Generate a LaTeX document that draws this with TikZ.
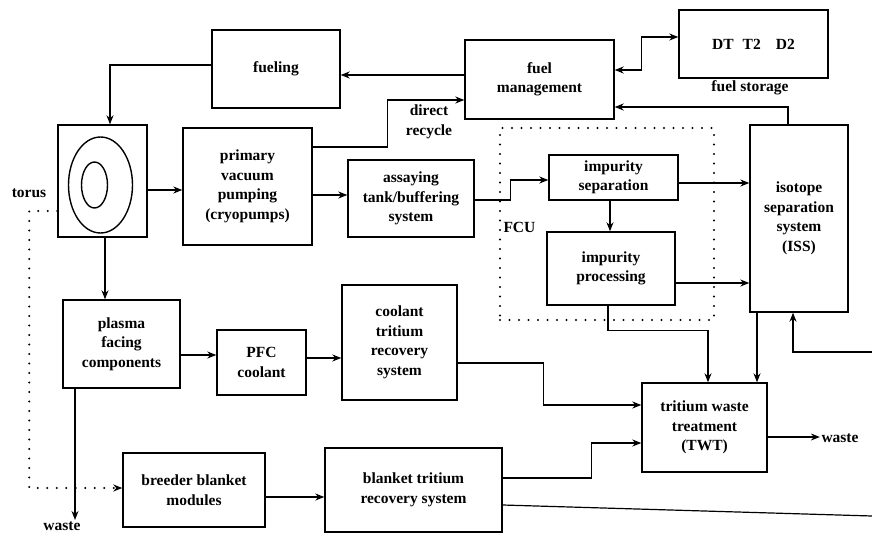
\documentclass[tikz,border=0pt]{standalone}
\usepackage{fontspec}
\setmainfont{Liberation Serif}
\usetikzlibrary{
	arrows.meta,
	positioning,
	calc,
}
\tikzset{unit/.style={
		% The shape:
		rectangle,
		% The border:
		line width=1.4pt,
		draw=black,
		% The text:
		align=center,
		font=\fontsize{15.5}{19.5}\selectfont\bfseries,
		inner sep=2pt,
}}
\tikzset{tag/.style={
		% plain text beside the boxes
		font=\fontsize{15.5}{19.5}\selectfont\bfseries,
		align=center,
		inner sep=1pt,
}}
\tikzset{dots/.style={
		% round dots, widely spaced
		line width=2.2pt,
		dash pattern=on 0pt off 9.5pt,
		line cap=round,
}}

\begin{document}
\begin{tikzpicture}[>={Stealth[length=9pt,width=7pt]},x=1pt,y=-1pt,line width=1.2pt]
	\useasboundingbox (0,0) rectangle (872,535);
	% the units
	\node (fueling) [unit, minimum width=128pt, minimum height=78pt] at (276,69) {fueling};
	\node (torus) [unit, minimum width=89pt, minimum height=112pt] at (102.5,181) {};
	\node (pump) [unit, minimum width=129pt, minimum height=117pt] at (247.5,186.5) {primary\\vacuum\\pumping\\(cryopumps)};
	\node (assay) [unit, minimum width=126pt, minimum height=77pt] at (411,198.5) {assaying\\tank/buffering\\system};
	\node (fuelmgmt) [unit, minimum width=149pt, minimum height=79pt] at (539.5,79.5) {fuel\\management};
	\node (storage) [unit, minimum width=149pt, minimum height=68pt] at (753.5,44) {DT\hspace{9pt}T2\hspace{15pt}D2};
	\node (impsep) [unit, minimum width=129pt, minimum height=45pt] at (613.5,177.5) {impurity\\separation};
	\node (impproc) [unit, minimum width=128pt, minimum height=73pt] at (611,268.5) {impurity\\processing};
	\node (iss) [unit, minimum width=98pt, minimum height=187pt] at (799,218.5) {isotope\\separation\\system\\(ISS)};
	\node (pfc) [unit, minimum width=117pt, minimum height=88pt] at (121.5,344) {plasma\\facing\\components};
	\node (pfccool) [unit, minimum width=89pt, minimum height=65pt] at (261.5,362.5) {PFC\\coolant};
	\node (ctrs) [unit, minimum width=115pt, minimum height=115pt] at (399.5,342.5) {coolant\\tritium\\recovery\\system};
	\node (breeder) [unit, minimum width=142pt, minimum height=74pt] at (194,490) {breeder blanket\\modules};
	\node (btrs) [unit, minimum width=177pt, minimum height=84pt] at (413.5,490) {blanket tritium\\recovery system};
	\node (twt) [unit, minimum width=125pt, minimum height=89pt] at (704.5,427.5) {tritium waste\\treatment\\(TWT)};
	% the fuel clean-up region
	\node (fcu) [draw, dots, minimum width=214pt, minimum height=192pt] at (607,224) {};
	\node (fcutxt) [tag, anchor=west] at ([xshift=3pt,yshift=-3pt]fcu.west) {FCU};
	% the torus rings
	\draw [line width=1.4pt] ([shift={(-2pt,-4pt)}]torus.center) ellipse [x radius=32pt, y radius=48pt];
	\draw [line width=1.4pt] ([shift={(-8pt,-4pt)}]torus.center) ellipse [x radius=13pt, y radius=23pt];
	% free texts
	\node (torustxt) [tag] at (29,193) {torus};
	\node (storagetxt) [tag] at (750,88) {fuel storage};
	\node (recycletxt) [tag] at (429,122) {direct\\recycle};
	\node (wasteA) [tag] at (62,526) {waste};
	\node (wasteB) [tag] at (840,438) {waste};
	\coordinate (issin) at (872,352);
	\coordinate (btrsout) at (872,516);
	% the flows
	\draw [->] ([yshift=4.5pt]fuelmgmt.west) coordinate (a1) -- (a1 -| fueling.east);
	\draw [->] ([yshift=4pt]fueling.west) -| ([xshift=7.5pt]torus.north);
	\draw [->] ([yshift=-9pt]torus.east) coordinate (a3) -- (a3 -| pump.west);
	\draw [->] ([yshift=-8.5pt]pump.east) coordinate (a4) -- (a4 -| assay.west);
	\draw [->] ([yshift=39.5pt]pump.east) -- ++(75pt,0) |- ([yshift=-20.5pt]fuelmgmt.west);
	\draw [<->] ([yshift=9.5pt]fuelmgmt.east) -- ++(27pt,0) |- ([yshift=7pt]storage.west);
	\draw [->] ([xshift=-11pt]iss.north) |- ([yshift=-27.5pt]fuelmgmt.east);
	\draw [->] ([yshift=-1.5pt]assay.east) -- ++(36pt,0) |- ([yshift=-2.5pt]impsep.west);
	\draw [->] ([yshift=-5.5pt]impsep.east) coordinate (a9) -- (a9 -| iss.west);
	\draw [->] ([xshift=-3.5pt]impsep.south) coordinate (a10) -- (a10 |- impproc.north);
	\draw [->] ([yshift=-14.5pt]impproc.east) coordinate (a11) -- (a11 -| iss.west);
	\draw [->] ([xshift=-3pt]impproc.south) -- ++(0,-25pt) -| ([xshift=3.5pt]twt.north);
	\draw [->] ([xshift=-42pt]iss.south) coordinate (a13) -- (a13 |- twt.north);
	\draw [->] (issin) -| ([xshift=-6pt]iss.south);
	\draw [->] ([yshift=-20.5pt]ctrs.east) -- ++(86pt,0) |- ([yshift=22.5pt]twt.west);
	\draw [->] ([yshift=12pt]btrs.east) -- ++(89pt,0) |- ([yshift=-15.5pt]twt.west);
	\draw ([yshift=-15pt]btrs.east) -- (btrsout);
	\draw [->] ([yshift=-9.5pt]twt.east) coordinate (a18) -- (a18 -| wasteB.west);
	\draw [->] ([xshift=2.5pt]torus.south) coordinate (a19) -- (a19 |- pfc.north);
	\draw [->] ([yshift=-11pt]pfc.east) coordinate (a20) -- (a20 -| pfccool.west);
	\draw [->] ([yshift=4.5pt]pfccool.east) coordinate (a21) -- (a21 -| ctrs.west);
	\draw [->] ([xshift=-46.5pt]pfc.south) coordinate (a22) -- (a22 |- wasteA.north);
	\draw [->,dots] ([yshift=-30pt]torus.west) -- ++(-28pt,0) |- ([yshift=2pt]breeder.west);
	\draw [->] ([yshift=-7pt]breeder.east) coordinate (a24) -- (a24 -| btrs.west);
\end{tikzpicture}
\end{document}
